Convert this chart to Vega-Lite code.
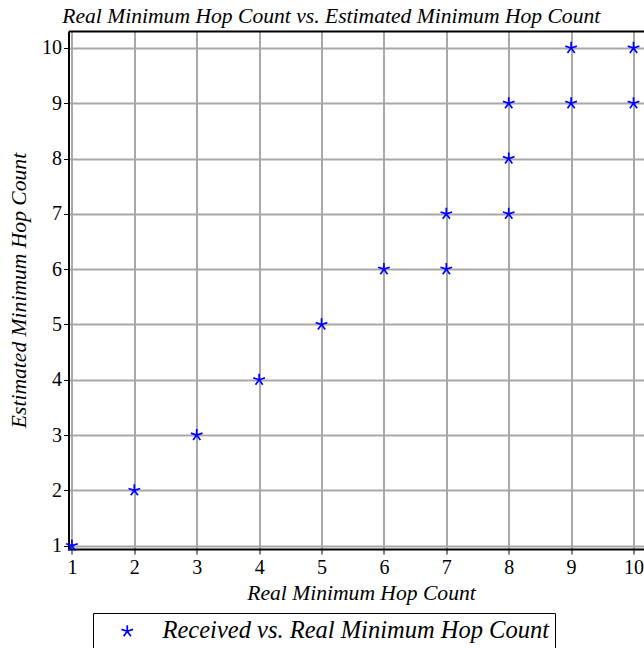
{
  "$schema": "https://vega.github.io/schema/vega-lite/v6.json",
  "width": 575.5,
  "height": 518,
  "autosize": {"type": "none"},
  "padding": {"left": 68.5, "top": 31, "right": 0, "bottom": 99},
  "background": "white",
  "config": {
    "view": {"stroke": null},
    "font": "Liberation Serif"
  },
  "title": {
    "text": "Real Minimum Hop Count vs. Estimated Minimum Hop Count",
    "font": "Liberation Serif",
    "fontStyle": "italic",
    "fontWeight": "normal",
    "fontSize": 21.6,
    "color": "black",
    "anchor": "middle",
    "dx": -25,
    "offset": 3
  },
  "data": {
    "values": [
      {"real": 1, "est": 1},
      {"real": 2, "est": 2},
      {"real": 3, "est": 3},
      {"real": 4, "est": 4},
      {"real": 5, "est": 5},
      {"real": 6, "est": 6},
      {"real": 7, "est": 6},
      {"real": 7, "est": 7},
      {"real": 8, "est": 7},
      {"real": 8, "est": 8},
      {"real": 8, "est": 9},
      {"real": 9, "est": 9},
      {"real": 9, "est": 10},
      {"real": 10, "est": 9},
      {"real": 10, "est": 10}
    ]
  },
  "resolve": {"axis": {"x": "independent"}},
  "layer": [
    {
      "mark": {
        "type": "point",
        "shape": "M0,0L0,-1M0,0L0.95,-0.31M0,0L-0.95,-0.31M0,0L0.59,0.81M0,0L-0.59,0.81",
        "filled": false,
        "size": 150,
        "strokeWidth": 1.7,
        "opacity": 1
      },
      "encoding": {
        "x": {
          "field": "real",
          "type": "quantitative",
          "scale": {"domain": [0.945, 10.168], "nice": false, "zero": false},
          "axis": {
            "orient": "bottom",
            "values": [1, 1.5, 2, 2.5, 3, 3.5, 4, 4.5, 5, 5.5, 6, 6.5, 7, 7.5, 8, 8.5, 9, 9.5, 10],
            "format": "d",
            "labelExpr": "datum.value % 1 === 0 ? datum.label : ''",
            "labelFont": "Liberation Serif",
            "labelFontSize": 20,
            "labelColor": "black",
            "labelPadding": 3,
            "labelFlush": false,
            "labelOverlap": false,
            "domainColor": "black",
            "domainWidth": 2,
            "tickColor": "black",
            "tickWidth": 1,
            "tickSize": {"condition": {"test": "datum.value % 1 === 0", "value": 5}, "value": 3},
            "grid": true,
            "gridColor": {"condition": {"test": "datum.value % 1 === 0", "value": "#a8a8a8"}, "value": "#e3e3e3"},
            "gridWidth": 2,
            "title": "Real Minimum Hop Count",
            "titleFont": "Liberation Serif",
            "titleFontStyle": "italic",
            "titleFontWeight": "normal",
            "titleFontSize": 21.6,
            "titleColor": "black",
            "titleX": 292.5,
            "titleY": 50,
            "titleBaseline": "alphabetic",
            "titleAlign": "center"
          }
        },
        "y": {
          "field": "est",
          "type": "quantitative",
          "scale": {"domain": [0.94, 10.307], "nice": false, "zero": false},
          "axis": {
            "orient": "left",
            "values": [1, 1.5, 2, 2.5, 3, 3.5, 4, 4.5, 5, 5.5, 6, 6.5, 7, 7.5, 8, 8.5, 9, 9.5, 10],
            "format": "d",
            "labelExpr": "datum.value % 1 === 0 ? datum.label : ''",
            "labelFont": "Liberation Serif",
            "labelFontSize": 20,
            "labelColor": "black",
            "labelPadding": 2,
            "labelFlush": false,
            "labelOverlap": false,
            "domainColor": "black",
            "domainWidth": 2,
            "tickColor": "black",
            "tickWidth": 1,
            "tickSize": {"condition": {"test": "datum.value % 1 === 0", "value": 5}, "value": 3},
            "grid": true,
            "gridColor": {"condition": {"test": "datum.value % 1 === 0", "value": "#a8a8a8"}, "value": "#e3e3e3"},
            "gridWidth": 2,
            "title": "Estimated Minimum Hop Count",
            "titleFont": "Liberation Serif",
            "titleFontStyle": "italic",
            "titleFontWeight": "normal",
            "titleFontSize": 21.6,
            "titleColor": "black",
            "titleAngle": 270,
            "titleX": -43,
            "titleY": 259,
            "titleBaseline": "alphabetic",
            "titleAlign": "center"
          }
        },
        "color": {
          "datum": "Received vs. Real Minimum Hop Count",
          "type": "nominal",
          "scale": {"range": ["#0000ff"]},
          "legend": {
            "title": null,
            "orient": "none",
            "legendX": 24.5,
            "legendY": 582,
            "padding": 6,
            "strokeColor": "black",
            "fillColor": "white",
            "symbolType": "M0,0L0,-1M0,0L0.95,-0.31M0,0L-0.95,-0.31M0,0L0.59,0.81M0,0L-0.59,0.81",
            "symbolSize": 150,
            "symbolStrokeWidth": 1.7,
            "symbolFillColor": "transparent",
            "symbolStrokeColor": "#0000ff",
            "symbolOffset": 16,
            "labelOffset": 23,
            "labelFont": "Liberation Serif",
            "labelFontStyle": "italic",
            "labelFontSize": 24.5,
            "labelColor": "black",
            "labelLimit": 600
          }
        }
      }
    },
    {
      "mark": {"type": "point", "opacity": 0},
      "encoding": {
        "x": {
          "field": "real",
          "type": "quantitative",
          "axis": {
            "orient": "top",
            "domainColor": "black",
            "domainWidth": 2,
            "ticks": false,
            "labels": false,
            "grid": false,
            "title": null
          }
        }
      }
    }
  ]
}
